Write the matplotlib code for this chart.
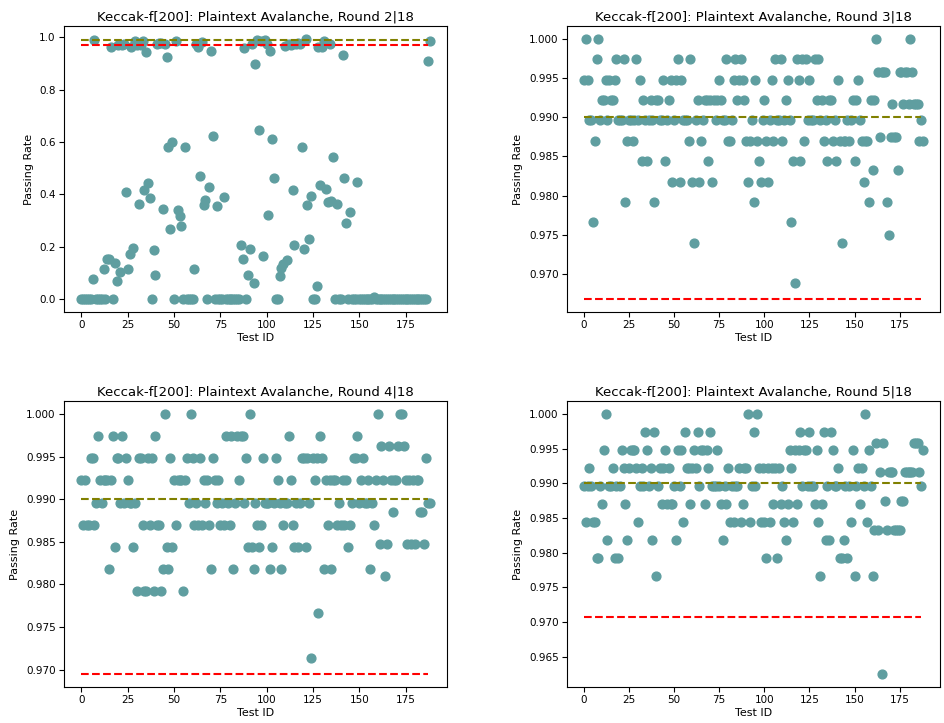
import numpy as np
import matplotlib
matplotlib.use("Agg")
import matplotlib.pyplot as plt

# Passing rate per test, one list per round (test IDs 0..188)
round2 = [
    0, 0, 0, 0, 0, 0, 0.078, 0.991, 0, 0,
    0, 0, 0.114, 0, 0.152, 0.152, 0.965, 0, 0.137, 0.068,
    0.972, 0.104, 0.972, 0.975, 0.409, 0.114, 0.171, 0.965, 0.195, 0.987,
    0.970, 0.365, 0.972, 0.985, 0.418, 0.946, 0.444, 0.385, 0, 0.187,
    0.091, 0.975, 0.980, 0.977, 0.344, 0.975, 0.927, 0.580, 0.268, 0.600,
    0, 0.987, 0.339, 0.316, 0.278, 0, 0.580, 0, 0, 0,
    0, 0.114, 0.975, 0.965, 0.471, 0.981, 0.361, 0.380, 0, 0.430,
    0.947, 0.623, 0, 0.354, 0, 0, 0, 0.391, 0, 0,
    0, 0, 0, 0, 0, 0, 0.208, 0.152, 0.958, 0,
    0.092, 0.190, 0.975, 0.063, 0.899, 0.990, 0.646, 0.987, 0.165, 0.990,
    0.975, 0.320, 0.949, 0.613, 0.462, 0, 0, 0.089, 0.120, 0.133,
    0.968, 0.148, 0.975, 0.972, 0.418, 0.205, 0.975, 0.977, 0.975, 0.582,
    0.192, 0.994, 0.358, 0.228, 0.392, 0, 0, 0.051, 0.962, 0.437,
    0.965, 0.985, 0.420, 0.370, 0.975, 0.373, 0.542, 0, 0.365, 0,
    0, 0.934, 0.462, 0.291, 0, 0.332, 0, 0, 0, 0.447,
    0, 0, 0, 0, 0, 0, 0, 0, 0.006, 0,
    0, 0, 0, 0, 0, 0, 0, 0, 0, 0,
    0, 0, 0, 0, 0, 0, 0, 0, 0, 0,
    0, 0, 0, 0, 0, 0, 0, 0.911, 0.987,
]

round3 = [
    .9948, 1.0, .9948, .9896, .9896, .9766, .9870, .9974, 1.0, .9896,
    .9922, .9922, .9948, .9896, .9948, .9922, .9922, .9948, .9974, .9896,
    .9896, .9896, .9974, .9792, .9870, .9896, .9896, .9870, .9896, .9974,
    .9896, .9948, .9844, .9922, .9896, .9844, .9896, .9922, .9896, .9792,
    .9922, .9922, .9896, .9896, .9948, .9844, .9896, .9922, .9948, .9818,
    .9896, .9948, .9974, .9818, .9948, .9896, .9896, .9896, .9870, .9974,
    .9818, .9740, .9896, .9922, .9818, .9870, .9896, .9922, .9922, .9844,
    .9922, .9818, .9922, .9896, .9922, .9948, .9922, .9896, .9896, .9974,
    .9870, .9870, .9896, .9948, .9974, .9922, .9948, .9974, .9948, .9922,
    .9870, .9818, .9870, .9896, .9792, .9948, .9870, .9844, .9818, .9896,
    .9922, .9870, .9818, .9896, .9948, .9870, .9974, .9896, .9896, .9974,
    .9870, .9896, .9922, .9948, .9896, .9766, .9844, .9688, .9974, .9948,
    .9844, .9974, .9870, .9974, .9896, .9948, .9896, .9896, .9974, .9922,
    .9974, .9896, .9922, .9870, .9896, .9844, .9922, .9922, .9870, .9896,
    .9844, .9948, .9870, .9740, .9870, .9870, .9896, .9870, .9896, .9922,
    .9844, .9922, .9948, .9896, .9870, .9818, .9870, .9870, .9792, .9922,
    .9833, .9922, 1.0, .9958, .9875, .9958, .9958, .9958, .9792, .9750,
    .9875, .9917, .9875, .9875, .9833, .9958, .9958, .9917, .9958, .9958,
    .9917, 1.0, .9958, .9917, .9917, .9917, .9870, .9896, .9870,
]

round4 = [
    .9922, .9870, .9922, .9870, .9870, .9948, .9948, .9870, .9896, .9974,
    .9922, .9896, .9922, .9922, .9922, .9818, .9922, .9974, .9844, .9948,
    .9948, .9896, .9974, .9896, .9948, .9922, .9896, .9896, .9844, .9896,
    .9792, .9948, .9948, .9870, .9792, .9792, .9948, .9870, .9948, .9792,
    .9974, .9870, .9870, .9792, .9818, 1.0, .9844, .9818, .9948, .9844,
    .9922, .9870, .9922, .9922, .9922, .9792, .9922, .9948, .9896, 1.0,
    .9948, .9870, .9896, .9870, .9948, .9870, .9922, .9896, .9922, .9870,
    .9818, .9948, .9922, .9896, .9922, .9870, .9896, .9870, .9974, .9896,
    .9870, .9974, .9818, .9896, .9974, .9922, .9974, .9974, .9896, .9948,
    .9844, 1.0, .9844, .9818, .9896, .9870, .9844, .9870, .9948, .9896,
    .9896, .9896, .9818, .9844, .9896, .9948, .9922, .9896, .9818, .9870,
    .9896, .9896, .9974, .9922, .9870, .9844, .9896, .9844, .9896, .9948,
    .9948, .9844, .9948, .9896, .9714, .9948, .9922, .9948, .9766, .9974,
    .9948, .9818, .9922, .9870, .9922, .9818, .9922, .9922, .9870, .9896,
    .9870, .9922, .9870, .9922, .9844, .9870, .9896, .9948, .9948, .9974,
    .9896, .9922, .9948, .9896, .9896, .9922, .9818, .9896, .9870, .9922,
    1.0, .9847, .9962, .9923, .9810, .9847, .9962, .9923, .9885, .9923,
    .9923, .9962, 1.0, 1.0, .9962, .9923, .9847, .9923, .9847, .9923,
    .9847, .9923, .9923, .9885, .9885, .9847, .9948, .9896, .9896,
]

round5 = [
    .9896, .9844, .9896, .9922, .9896, .9844, .9844, .9792, .9792, .9896,
    .9870, .9948, 1.0, .9818, .9896, .9896, .9922, .9792, .9896, .9792,
    .9896, .9948, .9922, .9870, .9818, .9922, .9948, .9948, .9948, .9922,
    .9844, .9896, .9922, .9896, .9974, .9948, .9896, .9922, .9818, .9974,
    .9766, .9896, .9922, .9870, .9922, .9948, .9870, .9922, .9870, .9870,
    .9896, .9818, .9948, .9896, .9948, .9844, .9974, .9922, .9922, .9870,
    .9922, .9948, .9922, .9974, .9896, .9948, .9948, .9870, .9948, .9922,
    .9974, .9896, .9896, .9896, .9948, .9896, .9870, .9818, .9896, .9870,
    .9922, .9844, .9896, .9844, .9896, .9896, .9922, .9844, .9870, .9922,
    .9922, 1.0, .9844, .9896, .9974, .9896, 1.0, .9922, .9844, .9922,
    .9844, .9792, .9922, .9844, .9922, .9870, .9922, .9792, .9922, .9870,
    .9896, .9844, .9818, .9870, .9948, .9922, .9844, .9948, .9870, .9948,
    .9974, .9896, .9948, .9948, .9896, .9974, .9896, .9896, .9870, .9948,
    .9844, .9766, .9870, .9974, .9818, .9896, .9818, .9974, .9948, .9896,
    .9896, .9922, .9792, .9792, .9818, .9896, .9792, .9896, .9844, .9948,
    .9766, .9896, .9922, .9870, .9922, .9896, 1.0, .9844, .9948, .9896,
    .9766, .9833, .9958, .9833, .9917, .9625, .9958, .9875, .9833, .9917,
    .9917, .9917, .9833, .9833, .9833, .9833, .9875, .9875, .9917, .9917,
    .9917, .9917, .9917, .9958, .9958, .9958, .9917, .9896, .9948,
]

round_labels = ["2", "3", "4", "5"]
total_rounds = 18
upper_threshold = 0.99
lower_thresholds = [0.9724, 0.9668, 0.9695, 0.9707]
series = [round2, round3, round4, round5]

W, H = 944, 723
fig = plt.figure(figsize=(W / 100, H / 100), dpi=100)

# axes boxes in pixels: left, top, right, bottom
boxes = [
    (64, 26, 447, 312),
    (567, 26, 940, 312),
    (64, 401, 447, 687),
    (567, 401, 940, 687),
]

for vals, rnd, low, (l, t, r, b) in zip(series, round_labels, lower_thresholds, boxes):
    ax = fig.add_axes([l / W, 1 - b / H, (r - l) / W, (b - t) / H])
    ids = np.arange(len(vals))
    ax.scatter(ids, vals, s=40, color="cadetblue", zorder=2)
    ax.hlines(upper_threshold, 0, len(vals) - 2, colors="olive",
              linestyles="--", linewidth=1.5, zorder=3)
    ax.hlines(low, 0, len(vals) - 2, colors="red",
              linestyles="--", linewidth=1.5, zorder=3)
    ax.set_title(f"Keccak-f[200]: Plaintext Avalanche, Round {rnd}|{total_rounds}",
                 fontsize=9.5, pad=4)
    ax.set_xlabel("Test ID", fontsize=8, labelpad=2)
    ax.set_ylabel("Passing Rate", fontsize=8, labelpad=4)
    ax.tick_params(labelsize=7.5, length=3.5, pad=2.5)

fig.savefig("out.png", dpi=100)
